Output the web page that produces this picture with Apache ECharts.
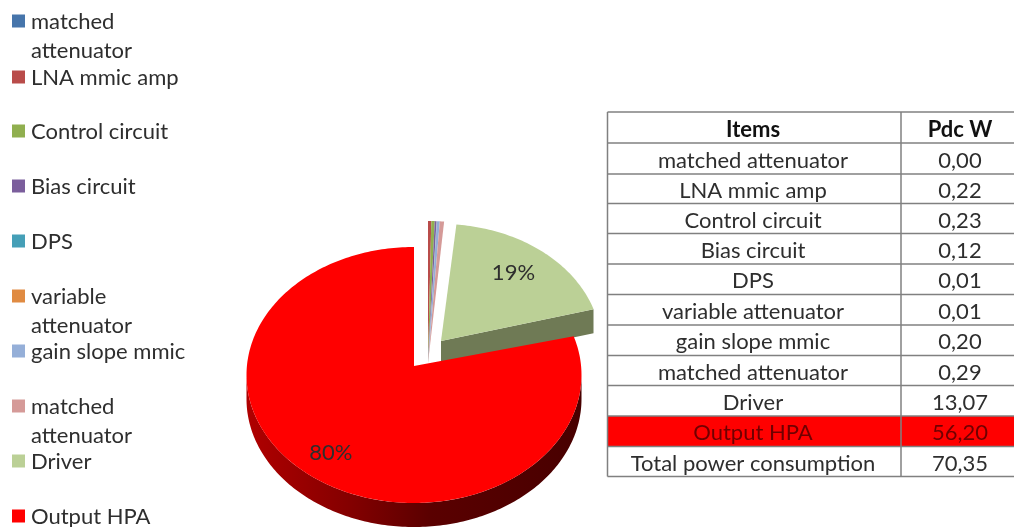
<!DOCTYPE html>
<html>
<head>
<meta charset="utf-8">
<style>
  html, body { margin: 0; padding: 0; background: #fff; }
  #chart { width: 1014px; height: 527px; filter: blur(0.5px); }
</style>
<script src="https://cdn.jsdelivr.net/npm/echarts@6/dist/echarts.min.js"></script>
</head>
<body>
<div id="chart"></div>
<script>
const categories = ['matched attenuator', 'LNA mmic amp', 'Control circuit', 'Bias circuit', 'DPS',
  'variable attenuator', 'gain slope mmic', 'matched attenuator', 'Driver', 'Output HPA'];
const pdcValues = [0.00, 0.22, 0.23, 0.12, 0.01, 0.01, 0.20, 0.29, 13.07, 56.20];
const pdcLabels = ['0,00', '0,22', '0,23', '0,12', '0,01', '0,01', '0,20', '0,29', '13,07', '56,20'];
const totalLabel = '70,35';
const legendLabels = ['matched\nattenuator', 'LNA mmic amp', 'Control circuit', 'Bias circuit', 'DPS',
  'variable\nattenuator', 'gain slope mmic', 'matched\nattenuator', 'Driver', 'Output HPA'];
const sliceColors = ['#4675AB', '#B94C4A', '#90AF4F', '#7B5E9C', '#459FB7',
  '#E08B42', '#95AFD8', '#D59A98', '#BBD096', '#FF0000'];

const fontFamily = 'Lato, "Open Sans", sans-serif';
const textColor = '#2e2e2e';
const gridColor = '#808080';

// pie frames: the 3D pie is exploded, every part has its own apex and ellipse
const smallFrame = { ax: 428, ay: 363, cx: 428, cy: 349, rx: 167.5, ry: 128 };
const driverFrame = { ax: 441, ay: 341, cx: 441, cy: 346, rx: 160, ry: 122, wall: '#6F7A55', labelR: 0.72 };
const hpaFrame = { ax: 414, ay: 366, cx: 414, cy: 375, rx: 167.5, ry: 128, labelR: 0.84 };
const sliceFrames = [smallFrame, smallFrame, smallFrame, smallFrame, smallFrame,
  smallFrame, smallFrame, smallFrame, driverFrame, hpaFrame];
const pieDepth = 24;

const legendTops = [21, 77, 131, 186, 241, 296, 351, 406, 461, 516];
const rowLines = [112, 143, 174, 203.5, 233.5, 264, 294.5, 325, 355.5, 385.5, 416, 446.5, 476.5];

const total = pdcValues.reduce((a, b) => a + b, 0);
const startShares = [];
pdcValues.reduce((sum, v, i) => {
  startShares[i] = sum / total;
  return sum + v;
}, 0);

function edgePoints(f, from, to, shift) {
  const pts = [];
  const steps = Math.max(2, Math.ceil((to - from) * 180 / Math.PI));
  for (let i = 0; i <= steps; i++) {
    const a = from + (to - from) * i / steps;
    pts.push([f.cx + f.rx * Math.sin(a), f.cy - f.ry * Math.cos(a) + shift]);
  }
  return pts;
}

function renderSlice(params, api) {
  const i = params.dataIndex;
  const value = api.value(0);
  if (!value) return { type: 'group', children: [] };
  const f = sliceFrames[i];
  const from = startShares[i] * Math.PI * 2;
  const to = from + value / total * Math.PI * 2;
  const children = [];

  // Driver shows its cut face, it sits behind the big slice
  if (f.wall) {
    const end = edgePoints(f, to, to, 0)[0];
    children.push({
      type: 'polygon',
      shape: { points: [[f.ax, f.ay], end, [end[0], end[1] + pieDepth], [f.ax, f.ay + pieDepth]] },
      style: { fill: f.wall }
    });
  }
  // outer wall, front half only
  if (to > Math.PI && from < Math.PI * 1.5 && value / total > 0.5) {
    const top = edgePoints(f, Math.PI / 2, Math.PI * 1.5, 0);
    const bottom = edgePoints(f, Math.PI / 2, Math.PI * 1.5, pieDepth).reverse();
    children.push({
      type: 'polygon',
      shape: { points: top.concat(bottom) },
      style: {
        fill: new echarts.graphic.LinearGradient(0, 0, 1, 0, [
          { offset: 0, color: '#B00000' },
          { offset: 0.3, color: '#850000' },
          { offset: 0.55, color: '#5A0000' },
          { offset: 1, color: '#480000' }
        ])
      }
    });
  }
  children.push({
    type: 'polygon',
    shape: { points: [[f.ax, f.ay]].concat(edgePoints(f, from, to, 0)) },
    style: { fill: api.visual('color') }
  });
  if (f.labelR) {
    const mid = (from + to) / 2;
    children.push({
      type: 'text',
      style: {
        x: f.ax + f.labelR * f.rx * Math.sin(mid),
        y: f.ay - f.labelR * f.ry * Math.cos(mid),
        text: Math.round(value / total * 100) + '%',
        font: '22px ' + fontFamily,
        fill: textColor,
        align: 'center',
        verticalAlign: 'middle'
      }
    });
  }
  return { type: 'group', children };
}

const graphics = [];

// legend
categories.forEach((name, i) => {
  const top = legendTops[i];
  graphics.push({
    type: 'rect',
    shape: { x: 12, y: top - 6.5, width: 13, height: 13 },
    style: { fill: sliceColors[i] }
  });
  graphics.push({
    type: 'text',
    style: {
      x: 31,
      y: top - 14,
      text: legendLabels[i],
      font: '22px ' + fontFamily,
      lineHeight: 29,
      fill: textColor,
      verticalAlign: 'top'
    }
  });
});

// table
const tableLeft = 607.5;
const tableRight = 1014;
const tableDivider = 901;
const itemCenter = 753;
const valueCenter = 960;
const rowNames = ['Items'].concat(categories, ['Total power consumption']);
const rowValues = ['Pdc W'].concat(pdcLabels, [totalLabel]);
const hpaRow = categories.indexOf('Output HPA') + 1;

graphics.push({
  type: 'rect',
  shape: { x: tableLeft, y: rowLines[hpaRow], width: tableRight - tableLeft, height: rowLines[hpaRow + 1] - rowLines[hpaRow] },
  style: { fill: '#FF0000' }
});
rowLines.forEach(y => {
  graphics.push({
    type: 'line',
    shape: { x1: tableLeft, y1: y, x2: tableRight, y2: y },
    style: { stroke: gridColor, lineWidth: 1.5 }
  });
});
[tableLeft, tableDivider].forEach(x => {
  graphics.push({
    type: 'line',
    shape: { x1: x, y1: rowLines[0], x2: x, y2: rowLines[rowLines.length - 1] },
    style: { stroke: gridColor, lineWidth: 1.5 }
  });
});
rowNames.forEach((name, i) => {
  const y = (rowLines[i] + rowLines[i + 1]) / 2 + 2;
  const weight = i === 0 ? 'bold ' : '';
  const fill = i === hpaRow ? '#700000' : textColor;
  graphics.push({
    type: 'text',
    style: { x: itemCenter, y: y, text: name, font: weight + '22px ' + fontFamily, fill: i === 0 ? '#111' : fill, align: 'center', verticalAlign: 'middle' }
  });
  graphics.push({
    type: 'text',
    style: { x: valueCenter, y: y, text: rowValues[i], font: weight + '22px ' + fontFamily, fill: i === 0 ? '#111' : fill, align: 'center', verticalAlign: 'middle' }
  });
});

const option = {
  animation: false,
  backgroundColor: '#fff',
  graphic: { elements: graphics },
  series: [
    {
      type: 'custom',
      coordinateSystem: 'none',
      renderItem: renderSlice,
      data: pdcValues.map((v, i) => ({ name: categories[i], value: [v], itemStyle: { color: sliceColors[i] } }))
    }
  ]
};

const chart = echarts.init(document.getElementById('chart'));
chart.setOption(option);
</script>
</body>
</html>
